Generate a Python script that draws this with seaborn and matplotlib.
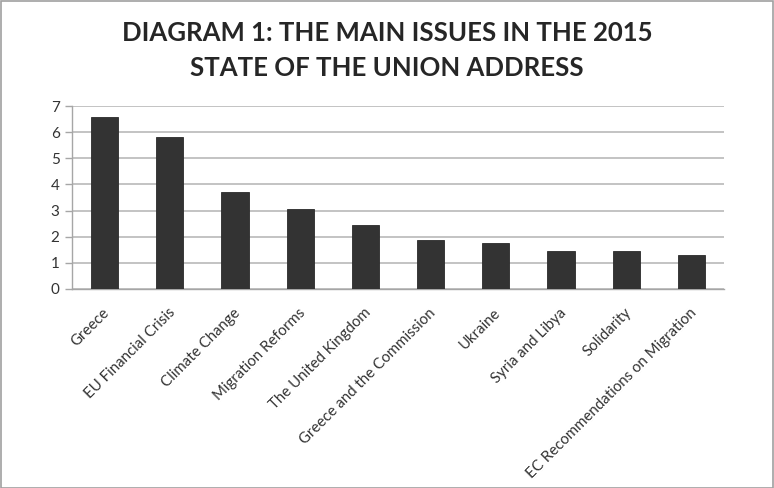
import matplotlib
matplotlib.use("Agg")
import matplotlib.pyplot as plt
import matplotlib.transforms as mtransforms
import seaborn as sns
import pandas as pd
from matplotlib.patches import Rectangle

categories = ["Greece", "EU Financial Crisis", "Climate Change", "Migration Reforms",
              "The United Kingdom", "Greece and the Commission", "Ukraine",
              "Syria and Libya", "Solidarity", "EC Recommendations on Migration"]
values = [6.58, 5.82, 3.72, 3.05, 2.44, 1.86, 1.77, 1.47, 1.47, 1.31]
yticks = [0, 1, 2, 3, 4, 5, 6, 7]
title_lines = ["DIAGRAM 1: THE MAIN ISSUES IN THE 2015", "STATE OF THE UNION ADDRESS"]

sns.set_theme(style="white")
plt.rcParams["font.family"] = ["Lato", "DejaVu Sans"]

df = pd.DataFrame({"issue": categories, "value": values})

fig = plt.figure(figsize=(7.74, 4.88), dpi=100)
ax = fig.add_axes([72 / 774, 1 - 289 / 488, (724 - 72) / 774, (289 - 106) / 488])

sns.barplot(data=df, x="issue", y="value", color="#333333", width=0.42,
            saturation=1, ax=ax, zorder=3, edgecolor="#2a2a2a", linewidth=0.6)

ax.set_ylim(0, 7)
ax.set_xlim(-0.5, len(categories) - 0.5)
ax.set_yticks(yticks)
ax.set_yticklabels([str(t) for t in yticks], fontsize=11, color="#333333")
ax.yaxis.grid(True, color="#b3b3b3", linewidth=1.1, zorder=0)
ax.set_axisbelow(True)
for s in ["top", "right"]:
    ax.spines[s].set_visible(False)
ax.spines["left"].set_color("#a6a6a6")
ax.spines["bottom"].set_color("#a6a6a6")
ax.spines["left"].set_linewidth(1.0)
ax.spines["bottom"].set_linewidth(1.0)

# x ticks between categories
ax.set_xticks(range(len(categories)))
ax.set_xticklabels(categories, rotation=45, ha="right", rotation_mode="anchor",
                   fontsize=10.8, color="#333333")
ax.tick_params(axis="x", length=0, pad=12)
offset = mtransforms.ScaledTranslation(-1.5 / 72, 0, fig.dpi_scale_trans)
for lbl in ax.get_xticklabels():
    lbl.set_transform(lbl.get_transform() + offset)
ax.set_xticks([i - 0.5 for i in range(len(categories) + 1)], minor=True)
ax.tick_params(axis="x", which="minor", length=5, color="#a6a6a6", width=1, direction="out")
ax.tick_params(axis="y", length=5, color="#a6a6a6", width=1, direction="out", left=True, pad=4)
ax.set_xlabel("")
ax.set_ylabel("")

fig.text(0.5, 1 - 33 / 488, title_lines[0], ha="center", va="center", fontsize=18.5,
         fontweight="bold", color="#262626")
fig.text(0.5, 1 - 68 / 488, title_lines[1], ha="center", va="center", fontsize=18.5,
         fontweight="bold", color="#262626")

fig.patches.append(Rectangle((0.5 / 774, 0.5 / 488), 1 - 1.5 / 774, 1 - 1.5 / 488,
                             transform=fig.transFigure, fill=False,
                             edgecolor="#a0a0a0", linewidth=1.2))

fig.savefig("out.png", dpi=100, facecolor="white")
